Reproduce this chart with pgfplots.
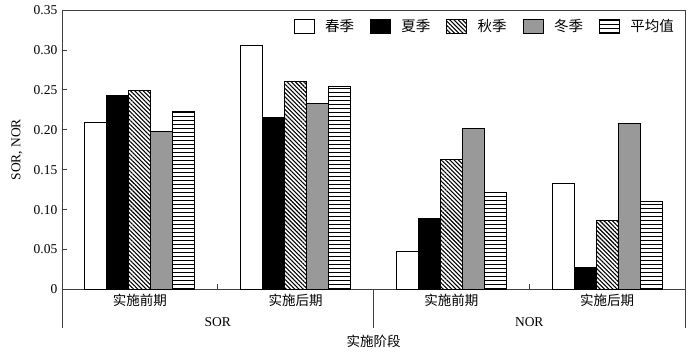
\documentclass[border=0pt]{standalone}
\usepackage{pgfplots}
\pgfplotsset{compat=1.18}
\usepackage{pgfplotstable}
\usepackage{fontspec}
\setmainfont{Liberation Serif}
\newfontfamily\cjk{Noto Sans CJK SC}
\usetikzlibrary{patterns,patterns.meta}

\pgfdeclarepatternformonly{hlines}{\pgfpoint{-1pt}{0pt}}{\pgfpoint{41pt}{4pt}}{\pgfpoint{40pt}{4pt}}{%
  \pgfsetlinewidth{1pt}%
  \pgfpathmoveto{\pgfpoint{-1pt}{2pt}}\pgfpathlineto{\pgfpoint{41pt}{2pt}}\pgfusepath{stroke}}

\pgfplotstableread{
x spring summer autumn winter avg
0 0.209 0.243 0.249 0.198 0.223
1 0.306 0.215 0.261 0.233 0.254
2 0.047 0.089 0.163 0.202 0.122
3 0.133 0.028 0.087 0.208 0.110
}\datatable

\begin{document}
\fontsize{13.5}{16}\selectfont
\begin{tikzpicture}
\begin{axis}[
  scale only axis,
  width=623pt, height=279.5pt,
  xmin=-0.5, xmax=3.5,
  ymin=0, ymax=0.35,
  ybar=0pt, bar width=22pt,
  clip=false,
  axis line style={black!75, line width=0.8pt},
  xtick={0.5,2.5}, xticklabels={},
  extra x ticks={0,1,2,3},
  extra x tick labels={{\cjk 实施前期},{\cjk 实施后期},{\cjk 实施前期},{\cjk 实施后期}},
  extra x tick style={tick style={draw=none}},
  ytick={0,0.05,0.10,0.15,0.20,0.25,0.30,0.35},
  yticklabels={0,0.05,0.10,0.15,0.20,0.25,0.30,0.35},
  tick align=inside,
  xtick pos=bottom, ytick pos=left,
  major tick length=5pt,
  tick style={black!75, line width=0.8pt},
  /pgf/number format/assume math mode=true,
  tick label style={font=\fontsize{13.5}{16}\selectfont},
  ylabel={SOR, NOR},
  ylabel style={font=\fontsize{13.5}{16}\selectfont, at={(rel axis cs:0,0.5)}, anchor=center, yshift=45pt},
  xlabel={\cjk 实施阶段},
  xlabel style={font=\fontsize{13.5}{16}\selectfont, at={(rel axis cs:0.5,0)}, anchor=center, yshift=-52pt},
  legend columns=5,
  legend style={at={(rel axis cs:1,1)}, anchor=north east, xshift=-6pt, yshift=-5pt,
    draw=none, fill=none, font=\cjk\fontsize{14.5}{16}\selectfont,
    /tikz/every odd column/.append style={column sep=8.5pt},
    /tikz/every even column/.append style={column sep=14pt}},
  legend image code/.code={\draw[#1, line width=0.8pt] (0pt,-7pt) rectangle (20pt,7pt);},
  every axis plot/.append style={draw=black, line width=1pt},
]
\addplot[fill=white] table[x=x,y=spring]{\datatable};
\addplot[fill=black] table[x=x,y=summer]{\datatable};
\addplot[pattern={Lines[angle=-45,distance=3pt,line width=1.1pt]}] table[x=x,y=autumn]{\datatable};
\addplot[fill=black!40] table[x=x,y=winter]{\datatable};
\addplot[pattern=hlines] table[x=x,y=avg]{\datatable};
\legend{春季,夏季,秋季,冬季,平均值}
\draw[black!75, line width=0.8pt] (axis cs:-0.5,0) -- ([yshift=-39pt]axis cs:-0.5,0);
\draw[black!75, line width=0.8pt] (axis cs:1.5,0) -- ([yshift=-39pt]axis cs:1.5,0);
\draw[black!75, line width=0.8pt] (axis cs:3.5,0) -- ([yshift=-39pt]axis cs:3.5,0);
\node at ([yshift=-33pt]axis cs:0.5,0) {SOR};
\node at ([yshift=-33pt]axis cs:2.5,0) {NOR};
\end{axis}
\path ([xshift=-62pt,yshift=-65.5pt]current axis.south west) rectangle ([xshift=15pt,yshift=10pt]current axis.north east);
\end{tikzpicture}
\end{document}
